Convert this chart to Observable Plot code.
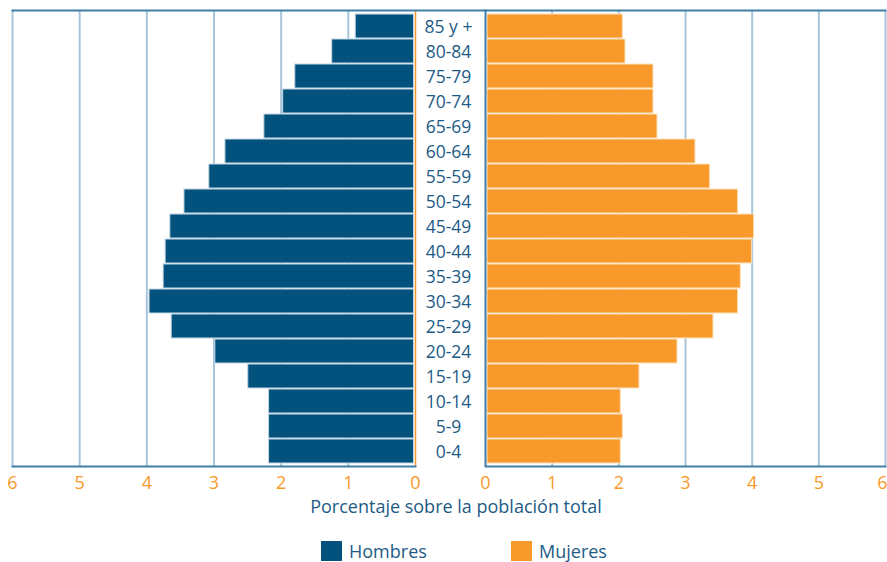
<!DOCTYPE html>
<html>
<head>
<meta charset="utf-8">
<script src="https://cdn.jsdelivr.net/npm/d3@7"></script>
<script src="https://cdn.jsdelivr.net/npm/@observablehq/plot@0.6"></script>
<style>
  html, body { margin: 0; padding: 0; background: #fff; }
  #chart { position: relative; width: 887px; height: 562px; font-family: "Open Sans", sans-serif; }
  #left, #right { position: absolute; top: 0; }
  #left { left: 0; }
  #right { left: 470px; }
  #right svg { background: transparent !important; }
  .title { position: absolute; left: 0; width: 912px; top: 494px; text-align: center; color: #1d5b86; font-size: 18px; }
  .legend { position: absolute; top: 539px; color: #1d5b86; font-size: 18px; display: flex; align-items: center; }
  .legend span.sw { display: inline-block; width: 21px; height: 20px; margin-right: 7px; }
</style>
</head>
<body>
<div id="chart">
  <div id="left"></div>
  <div id="right"></div>
  <div class="title">Porcentaje sobre la población total</div>
  <div class="legend" style="left:321px"><span class="sw" style="background:#03527e"></span>Hombres</div>
  <div class="legend" style="left:511px"><span class="sw" style="background:#f7992b"></span>Mujeres</div>
</div>
<script>
const ages = ["85 y +","80-84","75-79","70-74","65-69","60-64","55-59","50-54","45-49","40-44","35-39","30-34","25-29","20-24","15-19","10-14","5-9","0-4"];
const hombres = [0.89,1.24,1.79,1.97,2.25,2.83,3.07,3.44,3.65,3.72,3.75,3.96,3.63,2.98,2.49,2.18,2.18,2.18];
const mujeres = [2.06,2.10,2.52,2.52,2.58,3.15,3.37,3.79,4.03,4.00,3.83,3.79,3.42,2.88,2.31,2.03,2.06,2.03];
const ticks = [0,1,2,3,4,5,6];

const data = ages.map((a, i) => ({age: a, hombres: hombres[i], mujeres: mujeres[i]}));

const BLUE = "#03527e", ORANGE = "#f7992b", GRID = "#a9c5dc", TEXT = "#1d5b86", AXIS = "#3f7ea9";
const H = 495, MT = 10, MB = 29;

const left = Plot.plot({
  width: 487, height: H,
  marginTop: MT, marginBottom: MB, marginLeft: 12, marginRight: 72,
  style: {fontFamily: "Open Sans, sans-serif", background: "transparent"},
  x: {domain: [6, 0], label: null},
  y: {domain: ages, padding: 0.05, label: null},
  marks: [
    Plot.ruleX(ticks.filter(d => d > 0), {stroke: GRID, strokeWidth: 2}),
    Plot.barX(data, {x: "hombres", y: "age", fill: BLUE, stroke: "#c4d6e4", strokeWidth: 1, insetRight: 1.5}),
    Plot.ruleX([0], {stroke: ORANGE, strokeWidth: 1.5}),
    Plot.frame({anchor: "bottom", stroke: AXIS, strokeWidth: 2}),
    Plot.frame({anchor: "top", stroke: AXIS, strokeWidth: 2, insetRight: -72}),
    Plot.axisX({ticks, tickFormat: "d", tickSize: 0, tickPadding: 10, fill: ORANGE, fontSize: 18, label: null}),
    Plot.axisY({anchor: "right", tickSize: 0, tickPadding: 33, textAnchor: "middle", fill: TEXT, fontSize: 17.5, dy: 1, label: null})
  ]
});
document.getElementById("left").append(left);

const right = Plot.plot({
  width: 417, height: H,
  marginTop: MT, marginBottom: MB, marginLeft: 15, marginRight: 2,
  style: {fontFamily: "Open Sans, sans-serif", background: "transparent"},
  x: {domain: [0, 6], label: null},
  y: {domain: ages, padding: 0.05, axis: null},
  marks: [
    Plot.ruleX(ticks.filter(d => d > 0), {stroke: GRID, strokeWidth: 2}),
    Plot.barX(data, {x: "mujeres", y: "age", fill: ORANGE, stroke: "#fde2bf", strokeWidth: 1, insetLeft: 2}),
    Plot.ruleX([0], {stroke: AXIS, strokeWidth: 2}),
    Plot.frame({anchor: "bottom", stroke: AXIS, strokeWidth: 2}),
    Plot.frame({anchor: "top", stroke: AXIS, strokeWidth: 2}),
    Plot.axisX({ticks: ticks.slice(0, 6), tickFormat: "d", tickSize: 0, tickPadding: 10, fill: ORANGE, fontSize: 18, label: null}),
    Plot.axisX({ticks: [6], tickFormat: "d", tickSize: 0, tickPadding: 10, fill: ORANGE, fontSize: 18, textAnchor: "end", dx: 2, label: null})
  ]
});
document.getElementById("right").append(right);
</script>
</body>
</html>
